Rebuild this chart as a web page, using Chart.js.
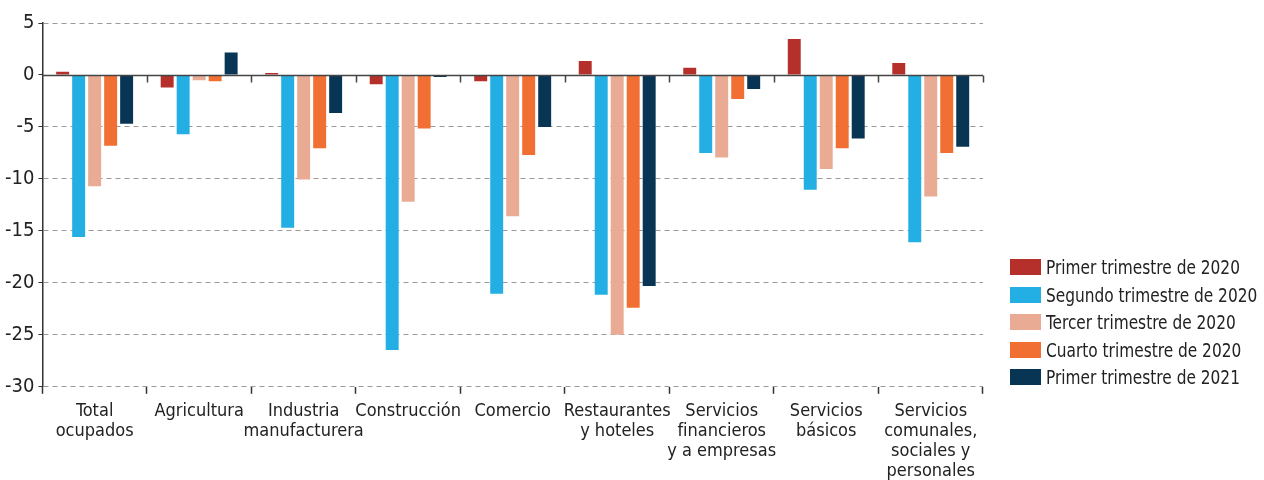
<!DOCTYPE html>
<html lang="es">
<head>
<meta charset="utf-8">
<script src="https://cdn.jsdelivr.net/npm/chart.js@4.4.1/dist/chart.umd.min.js"></script>
<style>
    html, body { margin: 0; padding: 0; background: #fff; }
    #wrap { width: 1264px; height: 480px; position: relative; overflow: hidden; }
    #legend {
        position: absolute; left: 1010px; top: 259px;
        margin: 0; padding: 0; list-style: none;
        font-family: 'DejaVu Sans Condensed', 'DejaVu Sans', sans-serif;
        font-size: 19px; color: #222;
    }
    #legend li { display: flex; align-items: center; height: 16px; margin-bottom: 11.6px; white-space: nowrap; }
    #legend .sw { width: 31px; height: 16px; flex: none; }
    #legend .tx { display: inline-block; margin-left: 5px; line-height: 16px; transform: scaleX(0.9); transform-origin: left center; }
</style>
</head>
<body>
<div id="wrap">
    <canvas id="empleoChart"></canvas>
    <ul id="legend"></ul>
</div>
<script>
// Variación del empleo por rama de actividad (%)
const CATEGORIES = [
    ['Total', 'ocupados'],
    'Agricultura',
    ['Industria', 'manufacturera'],
    'Construcción',
    'Comercio',
    ['Restaurantes', 'y hoteles'],
    ['Servicios', 'financieros', 'y a empresas'],
    ['Servicios', 'básicos'],
    ['Servicios', 'comunales,', 'sociales y', 'personales']
];

const SERIES_LABELS = [
    'Primer trimestre de 2020',
    'Segundo trimestre de 2020',
    'Tercer trimestre de 2020',
    'Cuarto trimestre de 2020',
    'Primer trimestre de 2021'
];

const T1_2020 = [0.3, -1.2, 0.2, -0.9, -0.6, 1.35, 0.7, 3.45, 1.15];
const T2_2020 = [-15.6, -5.7, -14.7, -26.45, -21.05, -21.15, -7.5, -11.05, -16.1];
const T3_2020 = [-10.7, -0.5, -10.05, -12.2, -13.6, -25.0, -7.95, -9.05, -11.7];
const T4_2020 = [-6.8, -0.6, -7.05, -5.15, -7.7, -22.4, -2.3, -7.05, -7.5];
const T1_2021 = [-4.7, 2.15, -3.65, -0.2, -5.0, -20.3, -1.35, -6.1, -6.9];

const Y_TICKS = [5, 0, -5, -10, -15, -20, -25, -30];

const COLORS = ['#B5302A', '#23AFE3', '#E9AB94', '#F26F33', '#083554'];
const FONT = "'DejaVu Sans Condensed', 'DejaVu Sans', sans-serif";

// solid zero line with category ticks hanging below it
const zeroLine = {
    id: 'zeroLine',
    afterDatasetsDraw(chart) {
        const { ctx, chartArea, scales: { x, y } } = chart;
        const y0 = Math.round(y.getPixelForValue(0)) + 0.5;
        const step = (x.right - x.left) / CATEGORIES.length;
        ctx.save();
        ctx.strokeStyle = '#444';
        ctx.lineWidth = 1.5;
        ctx.beginPath();
        ctx.moveTo(chartArea.left, y0);
        ctx.lineTo(chartArea.right, y0);
        for (let i = 1; i <= CATEGORIES.length; i++) {
            const xb = Math.round(x.left + i * step) + 0.5;
            ctx.moveTo(xb, y0);
            ctx.lineTo(xb, y0 + 7);
        }
        ctx.stroke();
        ctx.restore();
    }
};

const datasets = [T1_2020, T2_2020, T3_2020, T4_2020, T1_2021].map((data, i) => ({
    label: SERIES_LABELS[i],
    data,
    backgroundColor: COLORS[i],
    borderWidth: 0,
    categoryPercentage: 0.765,
    barPercentage: 0.81
}));

const chart = new Chart(document.getElementById('empleoChart'), {
    type: 'bar',
    data: { labels: CATEGORIES, datasets },
    plugins: [zeroLine],
    options: {
        responsive: true,
        maintainAspectRatio: false,
        animation: false,
        layout: { padding: { top: 23, right: 281, left: 1, bottom: -9 } },
        plugins: {
            tooltip: { enabled: false },
            legend: { display: false }
        },
        scales: {
            x: {
                grid: {
                    offset: true,
                    drawOnChartArea: false,
                    tickLength: 7,
                    tickColor: '#333',
                    tickWidth: 1.5
                },
                border: { display: false },
                ticks: {
                    color: '#222',
                    maxRotation: 0,
                    autoSkip: false,
                    padding: 8,
                    font: { family: FONT, size: 18, lineHeight: 1.1 }
                }
            },
            y: {
                min: -30,
                max: 5,
                afterBuildTicks: axis => { axis.ticks = Y_TICKS.map(v => ({ value: v })); },
                grid: {
                    color: c => (c.tick && c.tick.value === 0 ? 'rgba(0,0,0,0)' : '#9a9a9a'),
                    tickColor: '#333',
                    tickLength: 4,
                    lineWidth: 1
                },
                border: { display: true, color: '#333', width: 1.5, dash: [5, 4] },
                ticks: {
                    color: '#222',
                    padding: 4,
                    font: { family: FONT, size: 20 }
                }
            }
        }
    }
});

// legend built from the chart's datasets
const legendEl = document.getElementById('legend');
chart.data.datasets.forEach(ds => {
    const li = document.createElement('li');
    const sw = document.createElement('span');
    sw.className = 'sw';
    sw.style.background = ds.backgroundColor;
    const tx = document.createElement('span');
    tx.className = 'tx';
    tx.textContent = ds.label;
    li.append(sw, tx);
    legendEl.appendChild(li);
});
</script>
</body>
</html>
